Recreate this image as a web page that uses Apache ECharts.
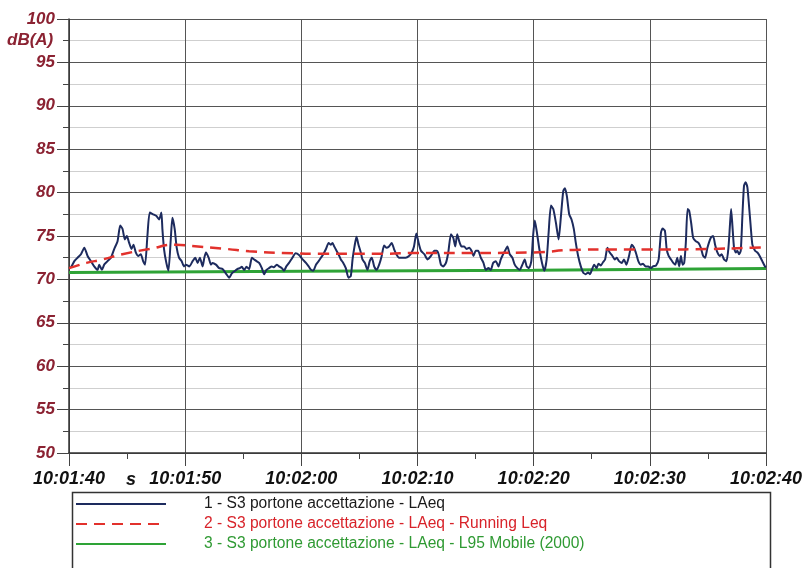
<!DOCTYPE html>
<html>
<head>
<meta charset="utf-8">
<script src="https://cdn.jsdelivr.net/npm/echarts@6/dist/echarts.min.js"></script>
<style>html,body{margin:0;padding:0;background:#fff}#c{width:805px;height:568px}</style>
</head>
<body>
<div id="c"></div>
<script>
// x tick labels (one per 10 s, offset from 10:01:40)
const xTickLabels = ['10:01:40','10:01:50','10:02:00','10:02:10','10:02:20','10:02:30','10:02:40'];
const seriesNames = [
  '1 - S3 portone accettazione - LAeq',
  '2 - S3 portone accettazione - LAeq - Running Leq',
  '3 - S3 portone accettazione - LAeq - L95 Mobile (2000)'
];
// Series 1: LAeq (time offset in s, dB(A))
const lAeqTimes = [
 0,0.17,0.46,0.74,1.03,1.32,1.6,1.89,2.17,2.46,2.6,2.83,3.03,3.32,3.61,3.89,4.18,4.41,4.61,4.81,4.98,5.18,5.38,5.55,5.75,5.95,6.18,6.38,6.55,6.75,6.95,7.24,7.53,7.75,7.95,8.04,8.18,8.38,8.56,8.76,8.9,9.1,9.27,9.47,9.7,9.9,
 10.07,10.36,10.64,10.87,11.07,11.27,11.5,11.65,11.79,12.02,12.22,12.36,12.65,12.93,13.22,13.5,13.79,14.02,14.31,14.51,14.71,14.88,15.08,15.28,15.51,15.74,15.94,16.14,16.37,16.6,16.8,17,17.22,17.45,17.65,17.88,18.08,18.31,18.51,18.71,18.94,19.23,19.51,19.8,
 20.11,20.4,20.63,20.83,21.03,21.26,21.49,21.69,21.89,22.12,22.35,22.55,22.69,22.83,23.03,23.2,23.4,23.61,23.83,24.06,24.26,24.41,24.58,24.75,24.92,25.12,25.26,25.47,25.69,25.89,26.07,26.27,26.47,26.7,26.92,27.12,27.32,27.55,27.78,27.98,28.18,28.41,28.7,28.98,29.27,29.5,29.7,29.9,
 30.1,30.3,30.59,30.87,31.16,31.45,31.65,31.82,32.02,32.22,32.45,32.65,32.88,33.08,33.25,33.42,33.59,33.79,34.02,34.22,34.45,34.65,34.82,35.02,35.22,35.45,35.68,35.88,36.11,36.31,36.51,36.74,36.97,37.17,37.37,37.54,37.74,37.94,38.17,38.37,38.6,38.8,39.03,39.23,39.4,39.6,39.8,39.95,
 40.1,40.26,40.49,40.72,40.92,41.12,41.29,41.49,41.69,41.92,42.15,42.35,42.55,42.69,42.86,43.06,43.26,43.46,43.63,43.83,44.06,44.26,44.49,44.69,44.84,45.01,45.21,45.41,45.58,45.78,45.98,46.15,46.35,46.55,46.78,46.98,47.15,47.35,47.58,47.78,47.98,48.21,48.44,48.64,48.84,49.01,49.21,49.41,49.64,49.87,
 50.07,50.27,50.53,50.76,50.96,51.1,51.3,51.45,51.62,51.82,52.02,52.19,52.36,52.53,52.68,52.82,52.96,53.1,53.25,53.39,53.56,53.73,53.96,54.19,54.39,54.59,54.76,54.96,55.25,55.45,55.62,55.82,56.02,56.19,56.39,56.6,56.77,56.91,57,57.11,57.25,57.4,57.54,57.68,57.83,57.97,58.11,58.25,58.4,58.54,58.68,58.83,59.06,59.26,59.46,59.68,59.91,60
];
const lAeqValues = [
 71.3,71.4,72.1,72.5,72.9,73.65,72.7,72.1,71.5,71.1,71.7,71.1,71.7,72.1,72.5,73.5,74.4,76.2,75.8,74.6,75.0,74.2,73.5,74.0,73.1,72.7,72.9,72.1,71.7,75.0,77.7,77.5,77.3,76.9,77.7,75.8,73.5,71.9,71.0,74.6,77.1,75.8,73.65,72.5,72.1,71.5,
 71.7,71.5,72.1,72.5,71.9,72.5,71.5,72.5,73.1,72.5,71.7,71.9,71.7,71.3,71.2,70.7,70.2,70.7,71.0,71.2,71.3,71.45,71.1,71.45,71.2,72.5,72.3,72.1,71.9,71.3,70.6,71.1,71.3,71.5,71.4,71.7,71.5,71.3,71.0,71.5,71.9,72.5,73.0,72.8,
 72.3,71.9,71.5,71.1,71.0,71.7,72.1,72.5,72.9,73.5,74.2,74.0,74.2,73.8,73.3,72.9,72.3,71.9,71.3,70.2,70.4,72.3,73.8,74.9,74.0,73.1,72.3,71.9,71.1,72.1,72.5,71.5,71.1,71.7,72.7,73.9,73.65,73.8,74.2,73.5,72.9,72.5,72.5,72.5,72.7,73.1,73.8,75.3,
 74.2,73.3,72.9,72.3,72.7,73.3,73.3,72.9,71.7,71.5,71.9,73.1,75.2,74.8,73.8,75.2,74.4,73.8,73.8,73.5,73.65,73.3,72.7,73.3,73.3,72.5,71.9,71.1,71.3,71.1,71.9,72.1,71.5,72.3,72.9,73.3,73.8,72.9,72.5,71.7,71.3,71.1,71.7,72.3,71.5,71.3,72.1,75.0,
 76.8,75.6,73.5,71.9,71.0,72.3,75.4,78.5,78.1,76.5,74.6,77.3,80.2,80.5,79.6,77.5,76.9,75.8,74.2,72.7,71.5,70.8,70.6,70.8,70.6,71.1,71.7,71.3,71.8,71.6,72.0,72.3,73.65,73.1,72.7,72.3,72.5,72.1,71.9,72.3,71.7,72.7,74.0,73.65,72.9,72.1,71.7,71.8,71.5,71.5,
 71.3,71.5,71.6,72.3,75.4,75.85,75.6,73.5,72.7,72.3,71.9,71.7,72.5,71.5,72.7,71.7,71.9,74.2,78.1,77.9,76.5,74.8,74.4,74.2,73.65,72.7,72.5,73.65,74.8,75.0,74.0,73.1,72.7,72.9,72.3,72.1,73.65,76.5,78.1,76.2,73.65,73.1,73.3,72.9,73.3,77.3,80.8,81.2,80.6,78.5,76.2,74.0,73.3,73.1,72.7,72.1,71.5,71.4
];
// Series 2: Running Leq
const runTimes  = [0, 0.5, 1.5, 2.9, 4.6, 6.9, 9.2, 10.6, 13.6, 15.5, 18.4, 22, 27, 30, 35, 40, 43.4, 47, 51, 55, 58.8, 60];
const runValues = [71.3, 71.5, 71.9, 72.3, 72.9, 73.5, 74.0, 73.85, 73.5, 73.25, 73.05, 72.95, 72.95, 73.05, 73.05, 73.1, 73.4, 73.45, 73.45, 73.5, 73.65, 73.7];
// Series 3: L95 mobile
const l95Times  = [0, 20, 40, 60];
const l95Values = [70.8, 70.95, 71.05, 71.25];

const zip = (a, b) => a.map((t, i) => [t, b[i]]);
const FONT = "'Liberation Sans', Arial, sans-serif";

const chart = echarts.init(document.getElementById('c'), null, {renderer: 'canvas'});
chart.setOption({
  backgroundColor: '#fff',
  animation: false,
  grid: {left: 69, right: 37, top: 19, bottom: 115},
  xAxis: {
    type: 'value', min: 0, max: 60, interval: 10,
    axisLine: {show: true, lineStyle: {color: '#333', width: 1.5}},
    axisTick: {show: true, length: 13, lineStyle: {color: '#444'}},
    minorTick: {show: true, splitNumber: 2, length: 6, lineStyle: {color: '#444'}},
    splitLine: {show: true, lineStyle: {color: '#555', width: 1}},
    axisLabel: {
      margin: 17, color: '#111', fontFamily: FONT, fontSize: 18, fontWeight: 'bold', fontStyle: 'italic',
      formatter: v => xTickLabels[Math.round(v / 10)] || ''
    }
  },
  yAxis: {
    type: 'value', min: 50, max: 100, interval: 5,
    axisLine: {show: true, lineStyle: {color: '#333', width: 1.5}},
    axisTick: {show: true, length: 12, lineStyle: {color: '#444'}},
    minorTick: {show: true, splitNumber: 2, length: 6, lineStyle: {color: '#444'}},
    splitLine: {show: true, lineStyle: {color: '#555', width: 1}},
    minorSplitLine: {show: true, lineStyle: {color: '#cfcfcf', width: 1}},
    axisLabel: {
      margin: 14, color: '#8b2232', fontFamily: FONT, fontSize: 17, fontWeight: 'bold', fontStyle: 'italic'
    }
  },
  legend: {
    orient: 'vertical', left: 70, top: 491, itemWidth: 90, itemHeight: 14, itemGap: 4,
    itemStyle: {opacity: 0},
    textStyle: {fontFamily: FONT, fontSize: 15.6, padding: [0, 0, 0, 33]},
    data: [
      {name: seriesNames[0], textStyle: {color: '#1a1a1a'}},
      {name: seriesNames[1], textStyle: {color: '#d8232a'}},
      {name: seriesNames[2], textStyle: {color: '#2f9a33'}}
    ]
  },
  graphic: [
    {type: 'rect', left: 70, top: 490, shape: {width: 698, height: 120}, style: {fill: 'none', stroke: '#333', lineWidth: 1.5}, silent: true},
    {type: 'text', left: 126, top: 471, style: {text: 's', fill: '#111', font: "italic bold 18px 'Liberation Sans', Arial"}, silent: true},
    {type: 'text', left: 7, top: 32, style: {text: 'dB(A)', fill: '#8b2232', font: "italic bold 17px 'Liberation Sans', Arial"}, silent: true}
  ],
  series: [
    {
      name: seriesNames[0], type: 'line', data: zip(lAeqTimes, lAeqValues), symbol: 'none', smooth: 0.2, z: 3,
      lineStyle: {color: '#1d2b5e', width: 2}, itemStyle: {color: '#1d2b5e'}
    },
    {
      name: seriesNames[1], type: 'line', data: zip(runTimes, runValues), symbol: 'none', smooth: true, z: 4,
      lineStyle: {color: '#e2312c', width: 2.5, type: [11, 7]}, itemStyle: {color: '#e2312c'}
    },
    {
      name: seriesNames[2], type: 'line', data: zip(l95Times, l95Values), symbol: 'none', z: 2,
      lineStyle: {color: '#2ea336', width: 3}, itemStyle: {color: '#2ea336'}
    }
  ]
});
</script>
</body>
</html>
